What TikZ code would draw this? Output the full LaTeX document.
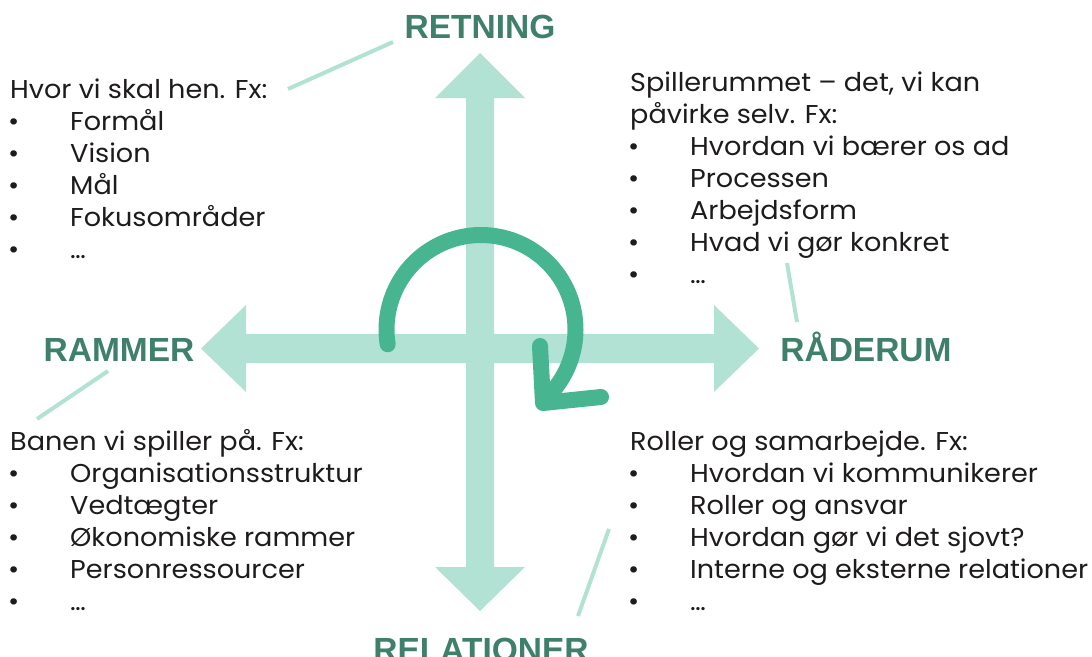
\documentclass[tikz,border=0pt]{standalone}
\usepackage{fontspec}
\setmainfont{Poppins}[FakeStretch=1.05]
\newfontfamily\lblfont{Liberation Sans}
\definecolor{lightgreen}{HTML}{B2E2D4}
\definecolor{turngreen}{HTML}{46B590}
\definecolor{lblgreen}{HTML}{3E806A}
\definecolor{textgray}{HTML}{1E1B1C}
\begin{document}
\begin{tikzpicture}[x=1pt,y=-1pt,
  body/.style={anchor=base west, inner sep=0pt, font=\fontsize{25.8}{30}\selectfont, text=textgray},
  lbl/.style={anchor=base, inner sep=0pt, font=\lblfont\bfseries\fontsize{33.5}{40}\selectfont, text=lblgreen},
  leader/.style={draw=lightgreen, line width=4pt},
  bigarrow/.style={fill=lightgreen},
  turn/.style={draw=turngreen, line width=16pt, line cap=round, line join=round}]
\useasboundingbox (0,0) rectangle (1092,656);

% cross of double arrows
\fill[bigarrow] (466,98) -- (435,98) -- (480,53) -- (525,98) -- (494,98) -- (494,567) -- (525,567) -- (480,611) -- (435,567) -- (466,567) -- cycle;
\fill[bigarrow] (246,334) -- (246,305) -- (201,348.5) -- (246,392) -- (246,363) -- (714,363) -- (714,392) -- (759,348.5) -- (714,305) -- (714,334) -- cycle;

% turning arrow
\draw[turn] plot[domain=171:408, samples=90] ({481+94.5*cos(\x)},{329.5+94.5*sin(\x)});
\draw[turn] (540,346) -- (543,403) -- (601,397);

% labels
\node[lbl] (retning) at (480,38) {RETNING};
\node[lbl] (rammer) at (119,361) {RAMMER};
\node[lbl] (raderum) at (866,361) {RÅDERUM};
\node[lbl] (relationer) at (481,661) {RELATIONER};

% leader lines
\coordinate (l1a) at (288,89);  \coordinate (l1b) at (393,42);
\coordinate (l2a) at (108,371); \coordinate (l2b) at (37,419);
\coordinate (l3a) at (787,263); \coordinate (l3b) at (797,322);
\coordinate (l4a) at (609,529); \coordinate (l4b) at (578,616);
\draw[leader] (l1a) -- (l1b);
\draw[leader] (l2a) -- (l2b);
\draw[leader] (l3a) -- (l3b);
\draw[leader] (l4a) -- (l4b);

% top-left text
\node[body] (tlh) at (10,98) {Hvor vi skal hen. Fx:};
\foreach \t [count=\i] in {Formål, Vision, Mål, Fokusområder, …} {
  \node[body] (tlb\i) at (8,98+32*\i) {•};
  \node[body] (tli\i) at (70,98+32*\i) {\t};
}
% top-right text
\node[body] (trh1) at (630,91) {Spillerummet – det, vi kan};
\node[body] (trh2) at (630,123) {påvirke selv. Fx:};
\foreach \t [count=\i] in {Hvordan vi bærer os ad, Processen, Arbejdsform, Hvad vi gør konkret, …} {
  \node[body] (trb\i) at (628,123+32*\i) {•};
  \node[body] (tri\i) at (690,123+32*\i) {\t};
}
% bottom-left text
\node[body] (blh) at (10,450) {Banen vi spiller på. Fx:};
\foreach \t [count=\i] in {Organisationsstruktur, Vedtægter, Økonomiske rammer, Personressourcer, …} {
  \node[body] (blb\i) at (8,450+32*\i) {•};
  \node[body] (bli\i) at (70,450+32*\i) {\t};
}
% bottom-right text
\node[body] (brh) at (630,450) {Roller og samarbejde. Fx:};
\foreach \t [count=\i] in {Hvordan vi kommunikerer, Roller og ansvar, Hvordan gør vi det sjovt?, Interne og eksterne relationer, …} {
  \node[body] (brb\i) at (628,450+32*\i) {•};
  \node[body] (bri\i) at (690,450+32*\i) {\t};
}
\end{tikzpicture}
\end{document}
